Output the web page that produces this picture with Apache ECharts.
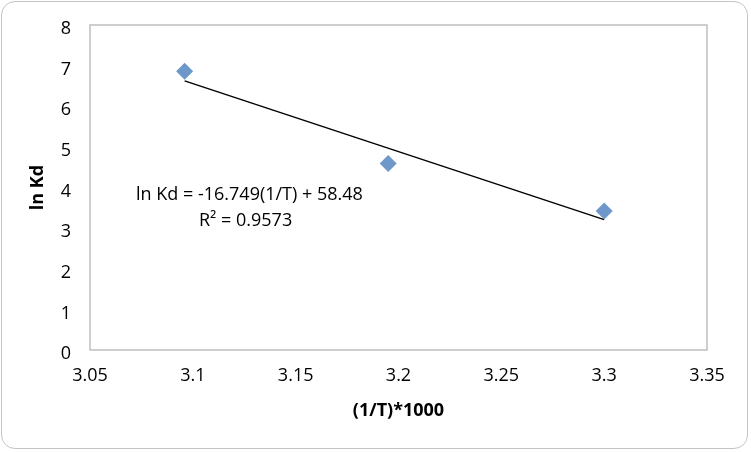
<!DOCTYPE html>
<html>
<head>
<meta charset="utf-8">
<script src="https://cdn.jsdelivr.net/npm/echarts@6/dist/echarts.min.js"></script>
<style>
  html, body { margin: 0; padding: 0; background: #fff; }
  #chart { position: absolute; left: 1px; top: 1px; width: 747px; height: 448px;
           border: 1.5px solid #c4c4c4; border-radius: 14px; box-sizing: border-box; }
</style>
</head>
<body>
<div id="chart"></div>
<script>
// 数据 (1/T)*1000 与 ln Kd
const xValues = [3.096, 3.195, 3.3];
const yValues = [6.86, 4.59, 3.42];
// 趋势线参数
const slope = -16.749;
const intercept = 58.48;
const eqText = ["ln Kd = -16.749(1/T) + 58.48", "R² = 0.9573"];

const font = "'Open Sans', 'Liberation Sans', sans-serif";
const points = xValues.map((x, i) => [x, yValues[i]]);
const xs = [xValues[0], xValues[xValues.length - 1]];
const trend = xs.map(x => [x, slope * x + intercept]);

let myChart = echarts.init(document.getElementById("chart"));
myChart.setOption({
  animation: false,
  grid: {
    left: 88, right: 40, top: 23, bottom: 98,
    show: true,
    borderColor: "#bfbfbf",
    borderWidth: 1.5
  },
  xAxis: {
    type: "value",
    min: 3.05, max: 3.35, interval: 0.05,
    name: "(1/T)*1000",
    nameLocation: "middle",
    nameGap: 52,
    nameTextStyle: { fontFamily: font, fontWeight: "bold", fontSize: 18, color: "#000" },
    axisLine: { show: false },
    axisTick: { show: false },
    splitLine: { show: false },
    axisLabel: {
      fontFamily: font, fontSize: 18, color: "#000", margin: 17,
      formatter: v => String(+v.toFixed(2))
    }
  },
  yAxis: {
    type: "value",
    min: 0, max: 8, interval: 1,
    name: "ln Kd",
    nameLocation: "middle",
    nameGap: 43,
    nameRotate: 90,
    nameTextStyle: { fontFamily: font, fontWeight: "bold", fontSize: 18, color: "#000" },
    axisLine: { show: false },
    axisTick: { show: false },
    splitLine: { show: false },
    axisLabel: { fontFamily: font, fontSize: 18, color: "#000", margin: 19,
                 verticalAlign: "top", padding: [-5, 0, 0, 0] }
  },
  series: [
    {
      name: "trend",
      type: "line",
      data: trend,
      symbol: "none",
      lineStyle: { color: "#000", width: 1.5 },
      z: 2
    },
    {
      name: "ln Kd",
      type: "scatter",
      data: points,
      symbol: "diamond",
      symbolSize: [17, 17],
      itemStyle: { color: "#4a7ebb" },
      z: 3
    }
  ],
  graphic: [
    {
      type: "text",
      left: 134, top: 184,
      style: { text: eqText[0], font: "18px " + font, fill: "#000" }
    },
    {
      type: "text",
      left: 197, top: 210,
      style: { text: eqText[1], font: "18px " + font, fill: "#000" }
    }
  ]
});
</script>
</body>
</html>
